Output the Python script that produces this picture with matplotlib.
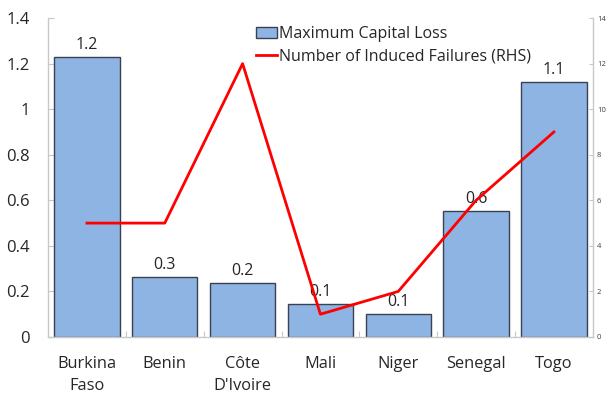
import numpy as np
import matplotlib
matplotlib.use("Agg")
import matplotlib.pyplot as plt

plt.rcParams['font.family'] = ['Open Sans', 'DejaVu Sans']

# Capital loss per country (left axis) and induced failures (right axis)
countries = ["Burkina\nFaso", "Benin", "Côte\nD'Ivoire", "Mali", "Niger", "Senegal", "Togo"]
capital_loss = [1.23, 0.263, 0.237, 0.145, 0.10, 0.553, 1.118]
induced_failures = [5, 5, 12, 1, 2, 6, 9]

bar_color = "#8eb4e3"
edge_color = "#3b4150"
axis_grey = "#c8c8c8"
text_color = "#262626"

fig = plt.figure(figsize=(6.08, 3.93), dpi=100)
ax = fig.add_axes([0.079, 0.1425, 0.896, 0.8115])
x = np.arange(len(countries))

bars = ax.bar(x, capital_loss, width=0.84, color=bar_color, edgecolor=edge_color,
              linewidth=1.0, label="Maximum Capital Loss", zorder=2)
for xi, v in zip(x, capital_loss):
    ax.text(xi, v + 0.018, f"{v:.1f}", ha="center", va="bottom",
            fontsize=11.5, color=text_color, zorder=3)

ax.set_xlim(-0.5, len(countries) - 0.5)
ax.set_ylim(0, 1.4)
ax.set_yticks(np.arange(0, 1.41, 0.2))
ax.set_yticklabels(["0", "0.2", "0.4", "0.6", "0.8", "1", "1.2", "1.4"])
ax.set_xticks(x)
ax.set_xticklabels(countries, linespacing=1.5)
ax.set_xticks(np.arange(0.5, len(countries) - 1, 1), minor=True)

for side in ["top", "right"]:
    ax.spines[side].set_visible(False)
for side in ["left", "bottom"]:
    ax.spines[side].set_color(axis_grey)
    ax.spines[side].set_linewidth(1.0)

ax.tick_params(axis="y", direction="in", length=4, width=0.8, color=axis_grey,
               labelsize=12, labelcolor=text_color, pad=13)
ax.tick_params(axis="x", which="major", length=0, labelsize=11.8,
               labelcolor=text_color, pad=14)
ax.tick_params(axis="x", which="minor", direction="in", length=4, width=0.8,
               color=axis_grey)

# Right-hand axis for the number of induced failures
ax2 = ax.twinx()
line, = ax2.plot(x, induced_failures, color="#ff0000", linewidth=2.0,
                 label="Number of Induced Failures (RHS)", zorder=4)
ax2.set_ylim(0, 14)
ax2.set_yticks(np.arange(0, 15, 2))
for side in ["top", "left", "bottom"]:
    ax2.spines[side].set_visible(False)
ax2.spines["right"].set_color(axis_grey)
ax2.spines["right"].set_linewidth(1.0)
ax2.tick_params(axis="y", direction="in", length=3, width=0.8, color=axis_grey,
                labelsize=5.5, labelcolor="#404040", pad=3)

ax.legend([bars, line], ["Maximum Capital Loss", "Number of Induced Failures (RHS)"],
          loc="upper left", bbox_to_anchor=(0.37, 0.995), frameon=False,
          fontsize=11.5, handlelength=1.3, handletextpad=0.15, labelspacing=0.4,
          borderaxespad=0, labelcolor=text_color)

fig.savefig("out.png", dpi=100)
